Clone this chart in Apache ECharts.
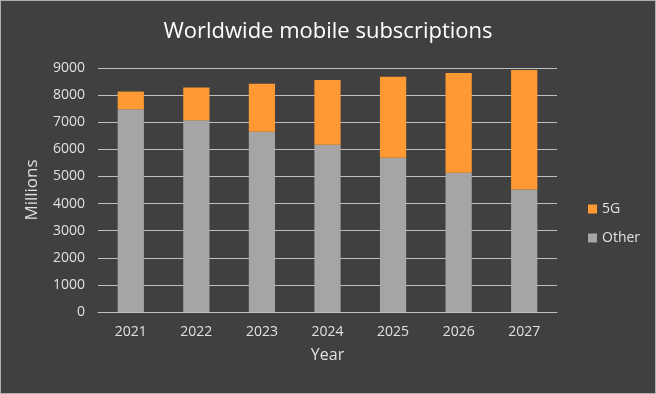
<!DOCTYPE html>
<html><head><meta charset="utf-8">
<script src="https://cdn.jsdelivr.net/npm/echarts@6/dist/echarts.min.js"></script>
<style>
html,body{margin:0;padding:0;background:#404040;}
#c{width:654px;height:392px;border:1px solid #b0b0b0;}
</style></head>
<body><div id="c"></div>
<script>
const years = ['2021','2022','2023','2024','2025','2026','2027'];
const other = [7480, 7070, 6650, 6170, 5690, 5140, 4520];
const fiveG = [650, 1210, 1770, 2390, 2990, 3680, 4410];
const yTicks = {min: 0, max: 9000, interval: 1000};

const font = '"Open Sans", "Liberation Sans", sans-serif';
const chart = echarts.init(document.getElementById('c'));
chart.setOption({
  backgroundColor: '#404040',
  animation: false,
  title: {text: 'Worldwide mobile subscriptions', left: 'center', top: 15,
    textStyle: {color: '#ffffff', fontSize: 22, fontWeight: 'normal', fontFamily: font}},
  legend: {orient: 'vertical', left: 582, top: 196, itemGap: 15, itemWidth: 9, itemHeight: 9,
    icon: 'rect', data: ['5G', 'Other'],
    textStyle: {color: '#e0e0e0', fontSize: 14, fontFamily: font}},
  grid: {left: 97, right: 98, top: 67, bottom: 81},
  xAxis: {type: 'category', data: years, name: 'Year', nameLocation: 'middle', nameGap: 35,
    nameTextStyle: {color: '#e0e0e0', fontSize: 16, fontFamily: font},
    axisLine: {lineStyle: {color: '#bfbfbf', width: 1}}, axisTick: {show: false},
    axisLabel: {color: '#e0e0e0', fontSize: 14, fontFamily: font, margin: 13}},
  yAxis: {type: 'value', min: yTicks.min, max: yTicks.max, interval: yTicks.interval,
    name: 'Millions', nameLocation: 'middle', nameGap: 57,
    nameTextStyle: {color: '#e0e0e0', fontSize: 17, fontFamily: font},
    axisLine: {show: false}, axisTick: {show: false},
    axisLabel: {color: '#e0e0e0', fontSize: 14, fontFamily: font, margin: 13,
      formatter: v => String(v)},
    splitLine: {lineStyle: {color: '#bfbfbf', width: 1}}},
  series: [
    {name: 'Other', type: 'bar', stack: 't', data: other, barCategoryGap: '60%',
      itemStyle: {color: '#a5a5a5'}},
    {name: '5G', type: 'bar', stack: 't', data: fiveG, barCategoryGap: '60%',
      itemStyle: {color: '#ff9933'}}
  ]
});
</script></body></html>
